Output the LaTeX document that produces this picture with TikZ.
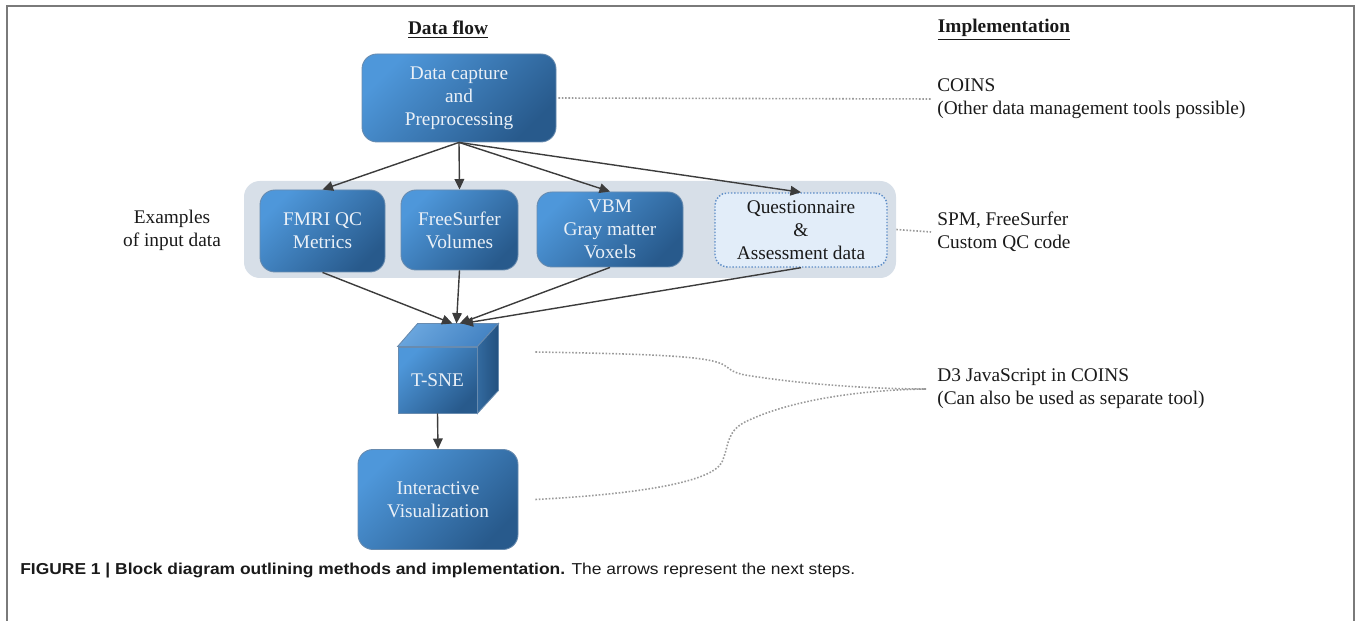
\documentclass[tikz,border=0pt]{standalone}
\usepackage{fontspec}
\usepackage{graphicx}
\setmainfont{Liberation Serif}
\newfontfamily\capsans{Liberation Sans}
\usetikzlibrary{arrows.meta,calc}
\definecolor{bluel}{HTML}{4E97DA}
\definecolor{blued}{HTML}{285A8C}
\definecolor{boxtext}{HTML}{EAF0F7}
\definecolor{bandc}{HTML}{D7DFE8}
\definecolor{qfill}{HTML}{E2EDF9}
\definecolor{qdraw}{HTML}{5B8BC6}
\definecolor{arrowc}{HTML}{3C3C3C}
\definecolor{dotc}{HTML}{9A9A9A}
\definecolor{framec}{HTML}{7A7A7A}
\definecolor{txtc}{HTML}{1A1A1A}
\definecolor{topl}{HTML}{6AA6DE}
\definecolor{topd}{HTML}{4382C2}
\definecolor{rightl}{HTML}{336A9F}
\definecolor{rightd}{HTML}{22507F}
\tikzset{
  mainfont/.style={font=\fontsize{11}{13}\selectfont},
  bluebox/.style={mainfont, rounded corners=8.5pt, top color=bluel, bottom color=blued, shading angle=45,
    draw=blued!70!white, line width=0.5pt, text=boxtext, align=center, inner sep=0pt},
  questbox/.style={mainfont, rounded corners=7pt, fill=qfill, draw=qdraw, densely dotted, line width=0.8pt,
    text=txtc, align=center, inner sep=0pt},
  band/.style={rounded corners=9pt, fill=bandc, draw=none},
  arr/.style={draw=arrowc, line width=0.8pt, -{Triangle[length=6pt,width=5.5pt]}},
  dotline/.style={draw=dotc, line width=0.9pt, densely dotted},
  plain/.style={mainfont, text=txtc, align=left, anchor=west, inner sep=0pt},
}
\begin{document}
\begin{tikzpicture}[x=0.02cm, y=-0.02cm]
\useasboundingbox (0,0) rectangle (1357,621);
% frame
\draw[framec, line width=1.1pt] (7,621) -- (7,6) -- (1354,6) -- (1354,621);
% headers
\node[text=txtc, font=\fontsize{11}{13}\selectfont\bfseries] (hflow) at (448,30) {\underline{Data flow}};
\node[text=txtc, font=\fontsize{11}{13}\selectfont\bfseries] (himpl) at (1004,30) {\underline{Implementation}};
% band
\node[band, minimum width=652*0.02cm, minimum height=97*0.02cm] (band) at (570,229.5) {};
% boxes
\node[bluebox, minimum width=194*0.02cm, minimum height=88*0.02cm] (cap) at (459,98) {Data capture\\and\\Preprocessing};
\node[bluebox, minimum width=125*0.02cm, minimum height=82*0.02cm] (fmri) at (322.5,231) {FMRI QC\\Metrics};
\node[bluebox, minimum width=117*0.02cm, minimum height=80*0.02cm] (fs) at (459.5,230) {FreeSurfer\\Volumes};
\node[bluebox, minimum width=146*0.02cm, minimum height=75*0.02cm] (vbm) at (610,229.5) {VBM\\Gray matter\\Voxels};
\node[questbox, minimum width=172*0.02cm, minimum height=74*0.02cm] (quest) at (801,230) {Questionnaire\\\&\\Assessment data};
\node[bluebox, minimum width=160*0.02cm, minimum height=100*0.02cm] (vis) at (438,499.5) {Interactive\\Visualization};
% cube
\node[bluebox, rounded corners=0pt, minimum width=79*0.02cm, minimum height=66*0.02cm] (tsne) at (437.5,380) {T-SNE};
\shade[top color=topl, bottom color=topd, shading angle=45, draw=blued!70!white, line width=0.5pt]
  (tsne.north west) -- ++(20,-23) -- ($(tsne.north east)+(21,-23)$) -- (tsne.north east) -- cycle;
\shade[left color=rightl, right color=rightd, draw=blued!70!white, line width=0.5pt]
  (tsne.north east) -- ++(21,-23) -- ($(tsne.south east)+(21,-23)$) -- (tsne.south east) -- cycle;
\coordinate (tin) at ($(tsne.north)+(19,-23)$);
% left label
\node[mainfont, text=txtc, align=center, inner sep=0pt] (ex) at (172,230) {Examples\\of input data};
% arrows
\draw[arr] (cap.south) -- (fmri.north);
\draw[arr] (cap.south) -- (fs.north);
\draw[arr] (cap.south) -- (vbm.north);
\draw[arr] (cap.south) -- (quest.north);
\draw[arr] (fmri.south) -- ($(tin)+(-4,0)$);
\draw[arr] (fs.south) -- (tin);
\draw[arr] (vbm.south) -- ($(tin)+(3,0)$);
\draw[arr] (quest.south) -- ($(tin)+(6,0)$);
\draw[arr] (tsne.south) -- (vis.north);
% implementation texts
\node[plain] (coins) at (937,99) {COINS\\(Other data management tools possible)};
\node[plain] (spm) at (937,232) {SPM, FreeSurfer\\Custom QC code};
\node[plain] (d3) at (937,389) {D3 JavaScript in COINS\\(Can also be used as separate tool)};
% dotted connectors
\draw[dotline] ($(cap.east)+(2,0)$) -- ($(coins.west)+(-6,0)$);
\draw[dotline] (band.east) -- ($(spm.west)+(-6,0)$);
\coordinate (tsneR) at ($(tsne.east)+(58,-28)$);
\coordinate (visR) at ($(vis.east)+(17,0)$);
\coordinate (d3L) at ($(d3.west)+(-11,0)$);
\draw[dotline] (tsneR) .. controls (650,354) and (705,356) .. (722,364)
  .. controls (730,368) and (730,372) .. (745,375)
  .. controls (800,384) and (870,389) .. (d3L);
\draw[dotline] (visR) .. controls (640,494) and (712,482) .. (722,462)
  .. controls (729,446) and (726,432) .. (745,422)
  .. controls (790,400) and (860,390) .. (d3L);
% caption
\node[anchor=west, inner sep=0pt, text=txtc, font=\capsans\fontsize{9}{11}\selectfont] (caption) at (20,571)
  {\resizebox{16.7cm}{\height}{\textbf{FIGURE 1 | Block diagram outlining methods and implementation.} The arrows represent the next steps.}};
\end{tikzpicture}
\end{document}
